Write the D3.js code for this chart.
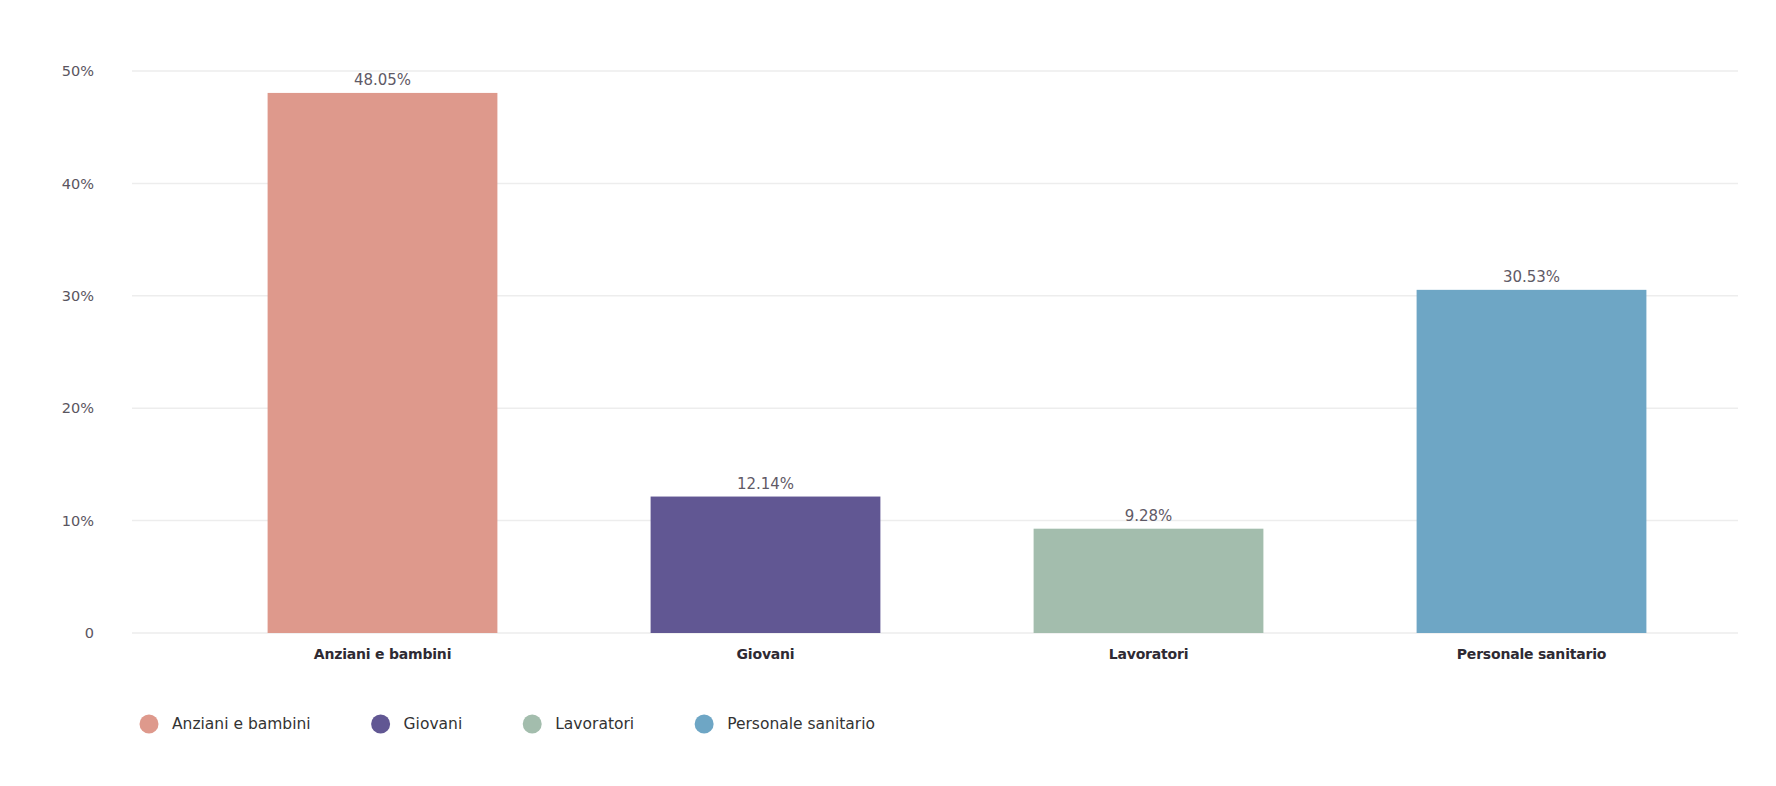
<!DOCTYPE html>
<html>
<head>
<meta charset="utf-8">
<script src="https://cdn.jsdelivr.net/npm/d3@7"></script>
<style>
  body { margin: 0; background: #fff; }
  text { font-family: "DejaVu Sans", Roboto, sans-serif; }
</style>
</head>
<body>
<div id="chart-area"></div>
<script>
//============================DATA============================
var categories = ["Anziani e bambini", "Giovani", "Lavoratori", "Personale sanitario"];
var values = [48.05, 12.14, 9.28, 30.53];
var colors = ["#DE998C", "#615793", "#A3BDAD", "#6EA6C5"];
var yTicks = [0, 10, 20, 30, 40, 50];

//============================LAYOUT============================
var width = 1776, height = 786;
var plot = { left: 132, right: 1738, top: 71, bottom: 633 };

var svg = d3.select("#chart-area")
    .append("svg")
    .attr("width", width)
    .attr("height", height);

// scales
var x = d3.scaleBand()
    .domain(categories)
    .range([191, 1723])
    .paddingInner(0.4)
    .paddingOuter(0.2);

var y = d3.scaleLinear()
    .domain([0, 50])
    .range([plot.bottom, plot.top]);

// gridlines
svg.append("g")
    .attr("class", "grid")
    .selectAll("line")
    .data(yTicks)
    .enter()
    .append("line")
    .attr("x1", plot.left)
    .attr("x2", plot.right)
    .attr("y1", function(d){ return y(d); })
    .attr("y2", function(d){ return y(d); })
    .attr("stroke", "#EDEDED")
    .attr("stroke-width", 1.5);

// y axis labels
var yAxis = d3.axisLeft(y)
    .tickValues(yTicks)
    .tickSize(0)
    .tickPadding(0)
    .tickFormat(function(d){ return d === 0 ? "0" : d + "%"; });

svg.append("g")
    .attr("class", "y axis")
    .attr("transform", "translate(94, 0)")
    .call(yAxis)
    .call(function(g){ g.select(".domain").remove(); })
    .selectAll("text")
    .attr("font-family", "'DejaVu Sans', sans-serif")
    .attr("font-size", "14.5px")
    .attr("fill", "#5a5560");

// bars
svg.selectAll("rect.bar")
    .data(values)
    .enter()
    .append("rect")
    .attr("class", "bar")
    .attr("x", function(d, i){ return x(categories[i]); })
    .attr("y", function(d){ return y(d); })
    .attr("width", x.bandwidth())
    .attr("height", function(d){ return y(0) - y(d); })
    .attr("fill", function(d, i){ return colors[i]; });

// value labels
svg.selectAll("text.value")
    .data(values)
    .enter()
    .append("text")
    .attr("class", "value")
    .attr("x", function(d, i){ return x(categories[i]) + x.bandwidth() / 2; })
    .attr("y", function(d){ return y(d) - 8; })
    .attr("text-anchor", "middle")
    .attr("font-size", "15px")
    .attr("fill", "#5f5a66")
    .text(function(d){ return d.toFixed(2) + "%"; });

// x axis (category labels)
var xAxis = d3.axisBottom(x).tickSize(0).tickPadding(0);
svg.append("g")
    .attr("class", "x axis")
    .attr("transform", "translate(0, " + plot.bottom + ")")
    .call(xAxis)
    .call(function(g){ g.select(".domain").remove(); })
    .selectAll("text")
    .attr("dy", null)
    .attr("y", 26)
    .attr("font-family", "'DejaVu Sans', sans-serif")
    .attr("font-size", "14px")
    .attr("font-weight", "bold")
    .attr("letter-spacing", "-0.2px")
    .attr("fill", "#2e2a33");

// legend
var legend = svg.append("g").attr("class", "legend");
var lx = 149, ly = 724;
categories.forEach(function(c, i){
    var item = legend.append("g").attr("transform", "translate(" + lx + ", " + ly + ")");
    item.append("circle").attr("r", 9.5).attr("fill", colors[i]);
    var t = item.append("text")
        .attr("x", 23)
        .attr("dy", "0.35em")
        .attr("font-size", "15.5px")
        .attr("fill", "#333")
        .text(c);
    lx += 23 + t.node().getComputedTextLength() + 70;
});
</script>
</body>
</html>
